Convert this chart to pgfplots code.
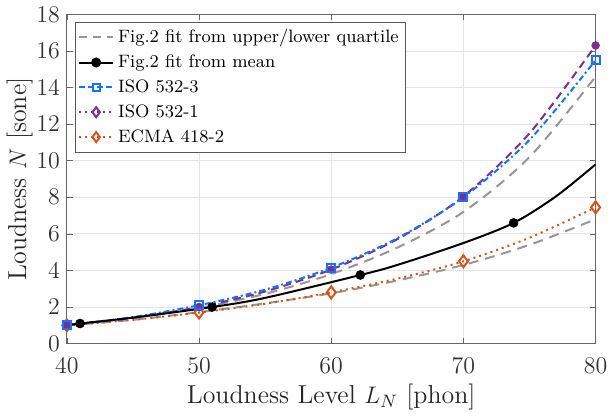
\documentclass[border=0pt]{standalone}
\usepackage{pgfplots}
\pgfplotsset{compat=1.18}
\definecolor{cblue}{RGB}{20,115,255}
\definecolor{cpurple}{RGB}{126,47,142}
\definecolor{corange}{RGB}{217,83,25}
\definecolor{cgray}{RGB}{150,150,150}
\begin{document}
\begin{tikzpicture}
\begin{axis}[
  scale only axis, width=265pt, height=165pt,
  xmin=40, xmax=80, ymin=0, ymax=18,
  xtick={40,50,60,70,80}, ytick={0,2,...,18},
  grid=major, major grid style={gray!20, line width=0.4pt},
  axis line style={gray!80!black, line width=0.5pt},
  tick align=inside, major tick length=3pt,
  tick style={gray!80!black},
  ticklabel style={font=\fontsize{11.5}{12}\selectfont, text=black!80},
  xticklabel style={yshift=-3.5pt},
  xlabel={Loudness Level $L_N$ [phon]}, ylabel={Loudness $N$ [sone]},
  label style={font=\fontsize{13}{14}\selectfont, text=black!85},
  xlabel style={yshift=1.5pt}, ylabel style={yshift=-5pt},
  legend style={at={(axis cs:40.6,17.6)}, anchor=north west, draw=gray!70!black,
    font=\fontsize{9}{10}\selectfont, inner sep=1.5pt, row sep=0.6pt,
    legend cell align=left},
  legend image post style={line width=1pt},
]
\addlegendimage{cgray, dashed, dash pattern=on 4pt off 3pt}
\addlegendentry{Fig.2 fit from upper/lower quartile}
\addlegendimage{black, solid, mark=*, mark size=2pt}
\addlegendentry{Fig.2 fit from mean}
\addlegendimage{cblue, dashed, dash pattern=on 3pt off 1.5pt, mark=square, mark size=1.8pt, mark options={solid}}
\addlegendentry{ISO 532-3}
\addlegendimage{cpurple, dotted, mark=diamond, mark size=2.5pt, mark options={solid}}
\addlegendentry{ISO 532-1}
\addlegendimage{corange, dotted, mark=diamond, mark size=2.5pt, mark options={solid}}
\addlegendentry{ECMA 418-2}

% gray quartile fits
\addplot[forget plot, cgray, line width=1pt, dash pattern=on 5pt off 3.5pt, smooth] coordinates {
 (40,1.0) (45,1.40) (50,1.95) (55,2.72) (60,3.80) (65,5.25) (70,7.2) (75,10.2) (80,14.6)};
\addplot[forget plot, cgray, line width=1pt, dash pattern=on 5pt off 3.5pt, smooth] coordinates {
 (40,1.0) (45,1.30) (50,1.72) (55,2.20) (60,2.75) (65,3.45) (70,4.3) (75,5.4) (80,6.8)};
% ECMA
\addplot[forget plot, corange, line width=1pt, dotted, smooth, mark=diamond, mark size=3pt,
  mark options={solid, line width=1pt, fill=white}, mark indices={1,3,5,7,9}] coordinates {
 (40,1.0) (45,1.30) (50,1.70) (55,2.18) (60,2.80) (65,3.55) (70,4.5) (75,5.79) (80,7.45)};
% ISO 532-1
\addplot[forget plot, cpurple, line width=1pt, dash pattern=on 4pt off 2.5pt, smooth, mark=*, mark size=1.6pt,
  mark options={solid}, mark indices={1,3,5,7,9}] coordinates {
 (40,1.0) (45,1.41) (50,2.0) (55,2.85) (60,4.05) (65,5.71) (70,8.05) (75,11.5) (80,16.3)};
% ISO 532-3
\addplot[forget plot, cblue, line width=1pt, dash pattern=on 3pt off 1.5pt on 1pt off 1.5pt, smooth, mark=square, mark size=2pt,
  mark options={solid, line width=1pt, fill=white}, mark indices={1,3,5,7,9}] coordinates {
 (40,1.0) (45,1.45) (50,2.1) (55,2.95) (60,4.15) (65,5.76) (70,8.0) (75,11.14) (80,15.5)};
% mean fit
\addplot[forget plot, black, line width=1pt, smooth] coordinates {
 (40,1.0) (41,1.1) (45,1.42) (51,2.0) (55,2.5) (62.2,3.75) (65,4.3) (70,5.5) (73.8,6.6) (77,8.05) (80,9.8)};
\addplot[forget plot, black, only marks, mark=*, mark size=2.2pt] coordinates {
 (41,1.1) (51,2.0) (62.2,3.75) (73.8,6.6)};
\end{axis}
\end{tikzpicture}
\end{document}
